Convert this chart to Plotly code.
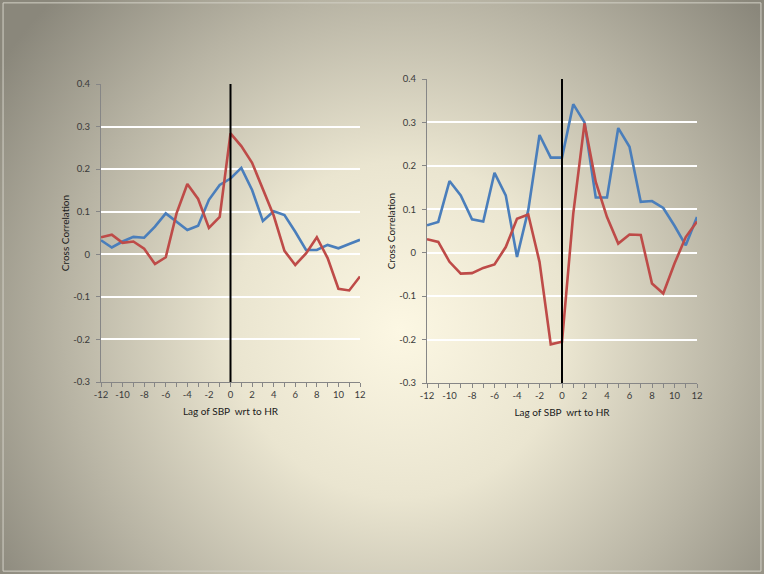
import base64
import plotly.graph_objects as go

lags = list(range(-12, 13))

left_blue = [0.033, 0.016, 0.030, 0.041, 0.039, 0.065, 0.096, 0.077, 0.057, 0.067,
             0.128, 0.163, 0.178, 0.203, 0.151, 0.078, 0.101, 0.092, 0.053, 0.010,
             0.010, 0.022, 0.014, 0.024, 0.034]
left_red = [0.040, 0.046, 0.027, 0.030, 0.013, -0.023, -0.007, 0.096, 0.165, 0.130,
            0.062, 0.088, 0.284, 0.254, 0.215, 0.155, 0.091, 0.008, -0.025, 0.002,
            0.040, -0.009, -0.081, -0.085, -0.052]
right_blue = [0.063, 0.071, 0.165, 0.132, 0.077, 0.072, 0.184, 0.132, -0.010, 0.098,
              0.271, 0.219, 0.219, 0.342, 0.300, 0.127, 0.127, 0.287, 0.244, 0.117,
              0.119, 0.103, 0.062, 0.017, 0.082]
right_red = [0.031, 0.025, -0.021, -0.048, -0.047, -0.035, -0.027, 0.013, 0.078, 0.088,
             -0.021, -0.211, -0.205, 0.090, 0.298, 0.163, 0.082, 0.021, 0.042, 0.041,
             -0.071, -0.094, -0.025, 0.036, 0.072]

x_tick_vals = list(range(-12, 13, 2))
x_tick_text = ["-12", "-10", "-8", "-6", "-4", "-2", "0", "2", "4", "6", "8", "10", "12"]
y_tick_vals = [-0.3, -0.2, -0.1, 0, 0.1, 0.2, 0.3, 0.4]
y_tick_text = ["-0.3", "-0.2", "-0.1", "0", "0.1", "0.2", "0.3", "0.4"]

BLUE = "#4A7EBB"
RED = "#BE4B48"

fig = go.Figure()
for xa, ya, b, r in [("x", "y", left_blue, left_red), ("x2", "y2", right_blue, right_red)]:
    fig.add_trace(go.Scatter(x=lags, y=b, mode="lines", line=dict(color=BLUE, width=2.6),
                             xaxis=xa, yaxis=ya, showlegend=False))
    fig.add_trace(go.Scatter(x=lags, y=r, mode="lines", line=dict(color=RED, width=2.6),
                             xaxis=xa, yaxis=ya, showlegend=False))

svg = """<svg xmlns='http://www.w3.org/2000/svg' width='764' height='574' viewBox='0 0 764 574' preserveAspectRatio='none'>
<defs><radialGradient id='g' cx='400' cy='330' r='480' gradientUnits='userSpaceOnUse'>
<stop offset='0' stop-color='#FCF7E3'/>
<stop offset='0.35' stop-color='#EAE5D0'/>
<stop offset='0.7' stop-color='#B8B4A4'/>
<stop offset='1' stop-color='#8A877B'/>
</radialGradient></defs>
<rect width='764' height='574' fill='url(#g)'/>
</svg>"""
src = "data:image/svg+xml;base64," + base64.b64encode(svg.encode()).decode()

FAM = "Lato, 'Liberation Sans', sans-serif"
font = dict(family=FAM, size=9.5, color="#3a3a3a")
title_font = dict(family=FAM, size=10, color="#1a1a1a")

axis_common = dict(
    showline=True, linecolor="#868686", linewidth=1,
    ticks="outside", ticklen=4, tickcolor="#868686",
    zeroline=False, tickfont=font, automargin=False,
)

def xax(domain, anchor):
    return dict(domain=domain, range=[-12, 12], tickvals=x_tick_vals, ticktext=x_tick_text,
                showgrid=False, anchor=anchor,
                minor=dict(dtick=1, tick0=0, ticks="outside", ticklen=4, tickcolor="#868686", showgrid=False),
                title=dict(text="Lag of SBP  wrt to HR", font=title_font, standoff=8),
                **axis_common)

def yax(domain, anchor):
    return dict(domain=domain, range=[-0.3, 0.4], tickvals=y_tick_vals, ticktext=y_tick_text,
                showgrid=True, gridcolor="#FFFFFF", gridwidth=1.5, anchor=anchor,
                ticklabelstandoff=4,
                title=dict(text="Cross Correlation", font=title_font, standoff=1),
                **axis_common)

fig.update_layout(
    width=764, height=574,
    margin=dict(l=0, r=0, t=0, b=0, autoexpand=False),
    paper_bgcolor="#C9C5B3",
    plot_bgcolor="rgba(0,0,0,0)",
    images=[dict(source=src, xref="paper", yref="paper", x=0, y=1, sizex=1, sizey=1,
                 xanchor="left", yanchor="top", sizing="stretch", layer="below")],
    font=font,
    xaxis=xax([101 / 764, 360 / 764], "y"),
    yaxis=yax([(574 - 382) / 574, (574 - 84) / 574], "x"),
    xaxis2=xax([427 / 764, 697 / 764], "y2"),
    yaxis2=yax([(574 - 383) / 574, (574 - 79) / 574], "x2"),
    shapes=[
        dict(type="line", xref="x", yref="y", x0=0, x1=0, y0=-0.3, y1=0.4,
             line=dict(color="#000000", width=2), layer="above"),
        dict(type="line", xref="x2", yref="y2", x0=0, x1=0, y0=-0.3, y1=0.4,
             line=dict(color="#000000", width=2), layer="above"),
        dict(type="rect", xref="paper", yref="paper", x0=0.004, x1=0.996, y0=0.005, y1=0.995,
             line=dict(color="#D2D0C6", width=1), layer="above"),
    ],
)

fig.write_html("out.html", config={"displayModeBar": False},
               post_script="document.body.style.margin='0';document.body.style.overflow='hidden';")
